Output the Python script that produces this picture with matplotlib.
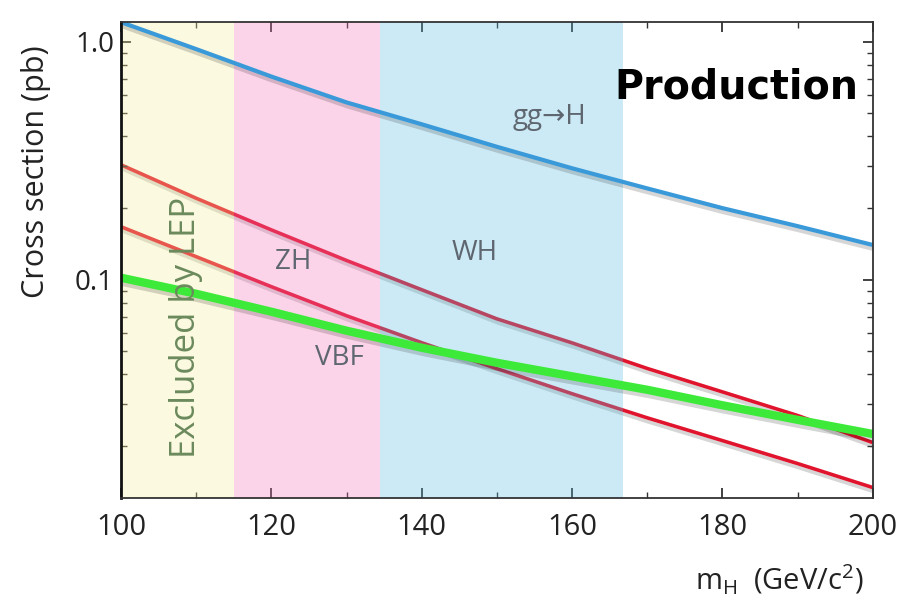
import numpy as np
import matplotlib
matplotlib.use("Agg")
import matplotlib.pyplot as plt
import matplotlib.patheffects as pe
from matplotlib.ticker import LogLocator, NullFormatter, MultipleLocator

# ---- data ----
mass = [100, 110, 120, 130, 140, 150, 160, 170, 180, 190, 200]
gg_H = [1.208, 0.931, 0.714, 0.556, 0.450, 0.362, 0.294, 0.242, 0.200, 0.168, 0.140]
WH = [0.304, 0.220, 0.162, 0.1205, 0.0908, 0.0685, 0.0543, 0.0424, 0.0338, 0.0269, 0.0207]
ZH = [0.167, 0.125, 0.0935, 0.0706, 0.0544, 0.0423, 0.0332, 0.0263, 0.0211, 0.0169, 0.0134]
VBF = [0.102, 0.0873, 0.0734, 0.0611, 0.0518, 0.0448, 0.0393, 0.0345, 0.0297, 0.0258, 0.0225]

bands = [(100, 115), (115, 134.5), (134.5, 166.8)]
band_colors = ["#F5EE95", "#F873B9", "#58BCDE"]

x_ticks = [100, 120, 140, 160, 180, 200]
x_ticklabels = ["100", "120", "140", "160", "180", "200"]
y_ticks = [0.1, 1.0]
y_ticklabels = ["0.1", "1.0"]

plt.rcParams['font.family'] = ['Open Sans', 'DejaVu Sans']
plt.rcParams['mathtext.fontset'] = 'custom'
plt.rcParams['mathtext.rm'] = 'Open Sans'
plt.rcParams['mathtext.it'] = 'Open Sans'

fig = plt.figure(figsize=(9.1, 6.03), dpi=100)
ax = fig.add_axes([0.133, 0.174, 0.826, 0.7895])
ax.set_yscale('log')
ax.set_xlim(100, 200)
ax.set_ylim(0.0121, 1.21)

shadow = [pe.SimpleLineShadow(offset=(1, -3), shadow_color='k', alpha=0.16), pe.Normal()]

# red lines under semi-transparent bands
ax.plot(mass, WH, color='#E1142D', lw=2.6, zorder=1, path_effects=shadow, solid_capstyle='butt')
ax.plot(mass, ZH, color='#E1142D', lw=2.6, zorder=1, path_effects=shadow, solid_capstyle='butt')

for (a, b), c in zip(bands, band_colors):
    ax.axvspan(a, b, color=c, alpha=0.3, lw=0, zorder=2)

ax.plot(mass, VBF, color='#3DEA3A', lw=6, zorder=3, path_effects=shadow, solid_capstyle='butt')
ax.plot(mass, gg_H, color='#3A9AD9', lw=3, zorder=3, path_effects=shadow, solid_capstyle='butt')

label_color = '#5E6670'
ax.text(122.9, 0.119, "ZH", fontsize=20, color=label_color, ha='center', va='center', zorder=4)
ax.text(147.1, 0.130, "WH", fontsize=20, color=label_color, ha='center', va='center', zorder=4)
ax.text(129.1, 0.047, "VBF", fontsize=20, color=label_color, ha='center', va='center', zorder=4)
ax.text(157.0, 0.484, "gg\u2192H", fontsize=20, color=label_color, ha='center', va='center', zorder=4)
ax.text(108.6, 0.063, "Excluded by LEP", fontsize=25, color='#6B8A5C', rotation=90,
        ha='center', va='center', zorder=4)
ax.text(0.981, 0.862, "Production", transform=ax.transAxes, fontsize=28.5, fontweight='bold',
        family=['DejaVu Sans'], color='black', ha='right', va='center', zorder=4)

ax.set_xticks(x_ticks, x_ticklabels)
ax.xaxis.set_minor_locator(MultipleLocator(10))
ax.set_yticks(y_ticks, y_ticklabels)
ax.yaxis.set_minor_locator(LogLocator(base=10, subs=np.arange(2, 10)))
ax.yaxis.set_minor_formatter(NullFormatter())

ax.tick_params(which='both', direction='in', top=True, right=True, color='#333333')
ax.tick_params(which='major', length=7, width=1.3)
ax.tick_params(which='minor', length=4, width=1.0)
ax.tick_params(axis='x', labelsize=21, pad=11, labelcolor='#222222')
ax.tick_params(axis='y', labelsize=20, pad=5, labelcolor='#222222')

for s in ax.spines.values():
    s.set_color('#333333')
    s.set_linewidth(1.3)
    s.set_zorder(5)
ax.spines['left'].set_linewidth(2)
ax.spines['left'].set_color('#111111')

ax.set_ylabel("Cross section (pb)", fontsize=22, color='#222222')
ax.yaxis.set_label_coords(-0.093, 0.685)
fig.text(0.949, 0.038, r"m$_{\rm H}$  (GeV/c$^{2}$)", fontsize=21, color='#222222',
         ha='right', va='center')

fig.savefig("out.png", dpi=100)
